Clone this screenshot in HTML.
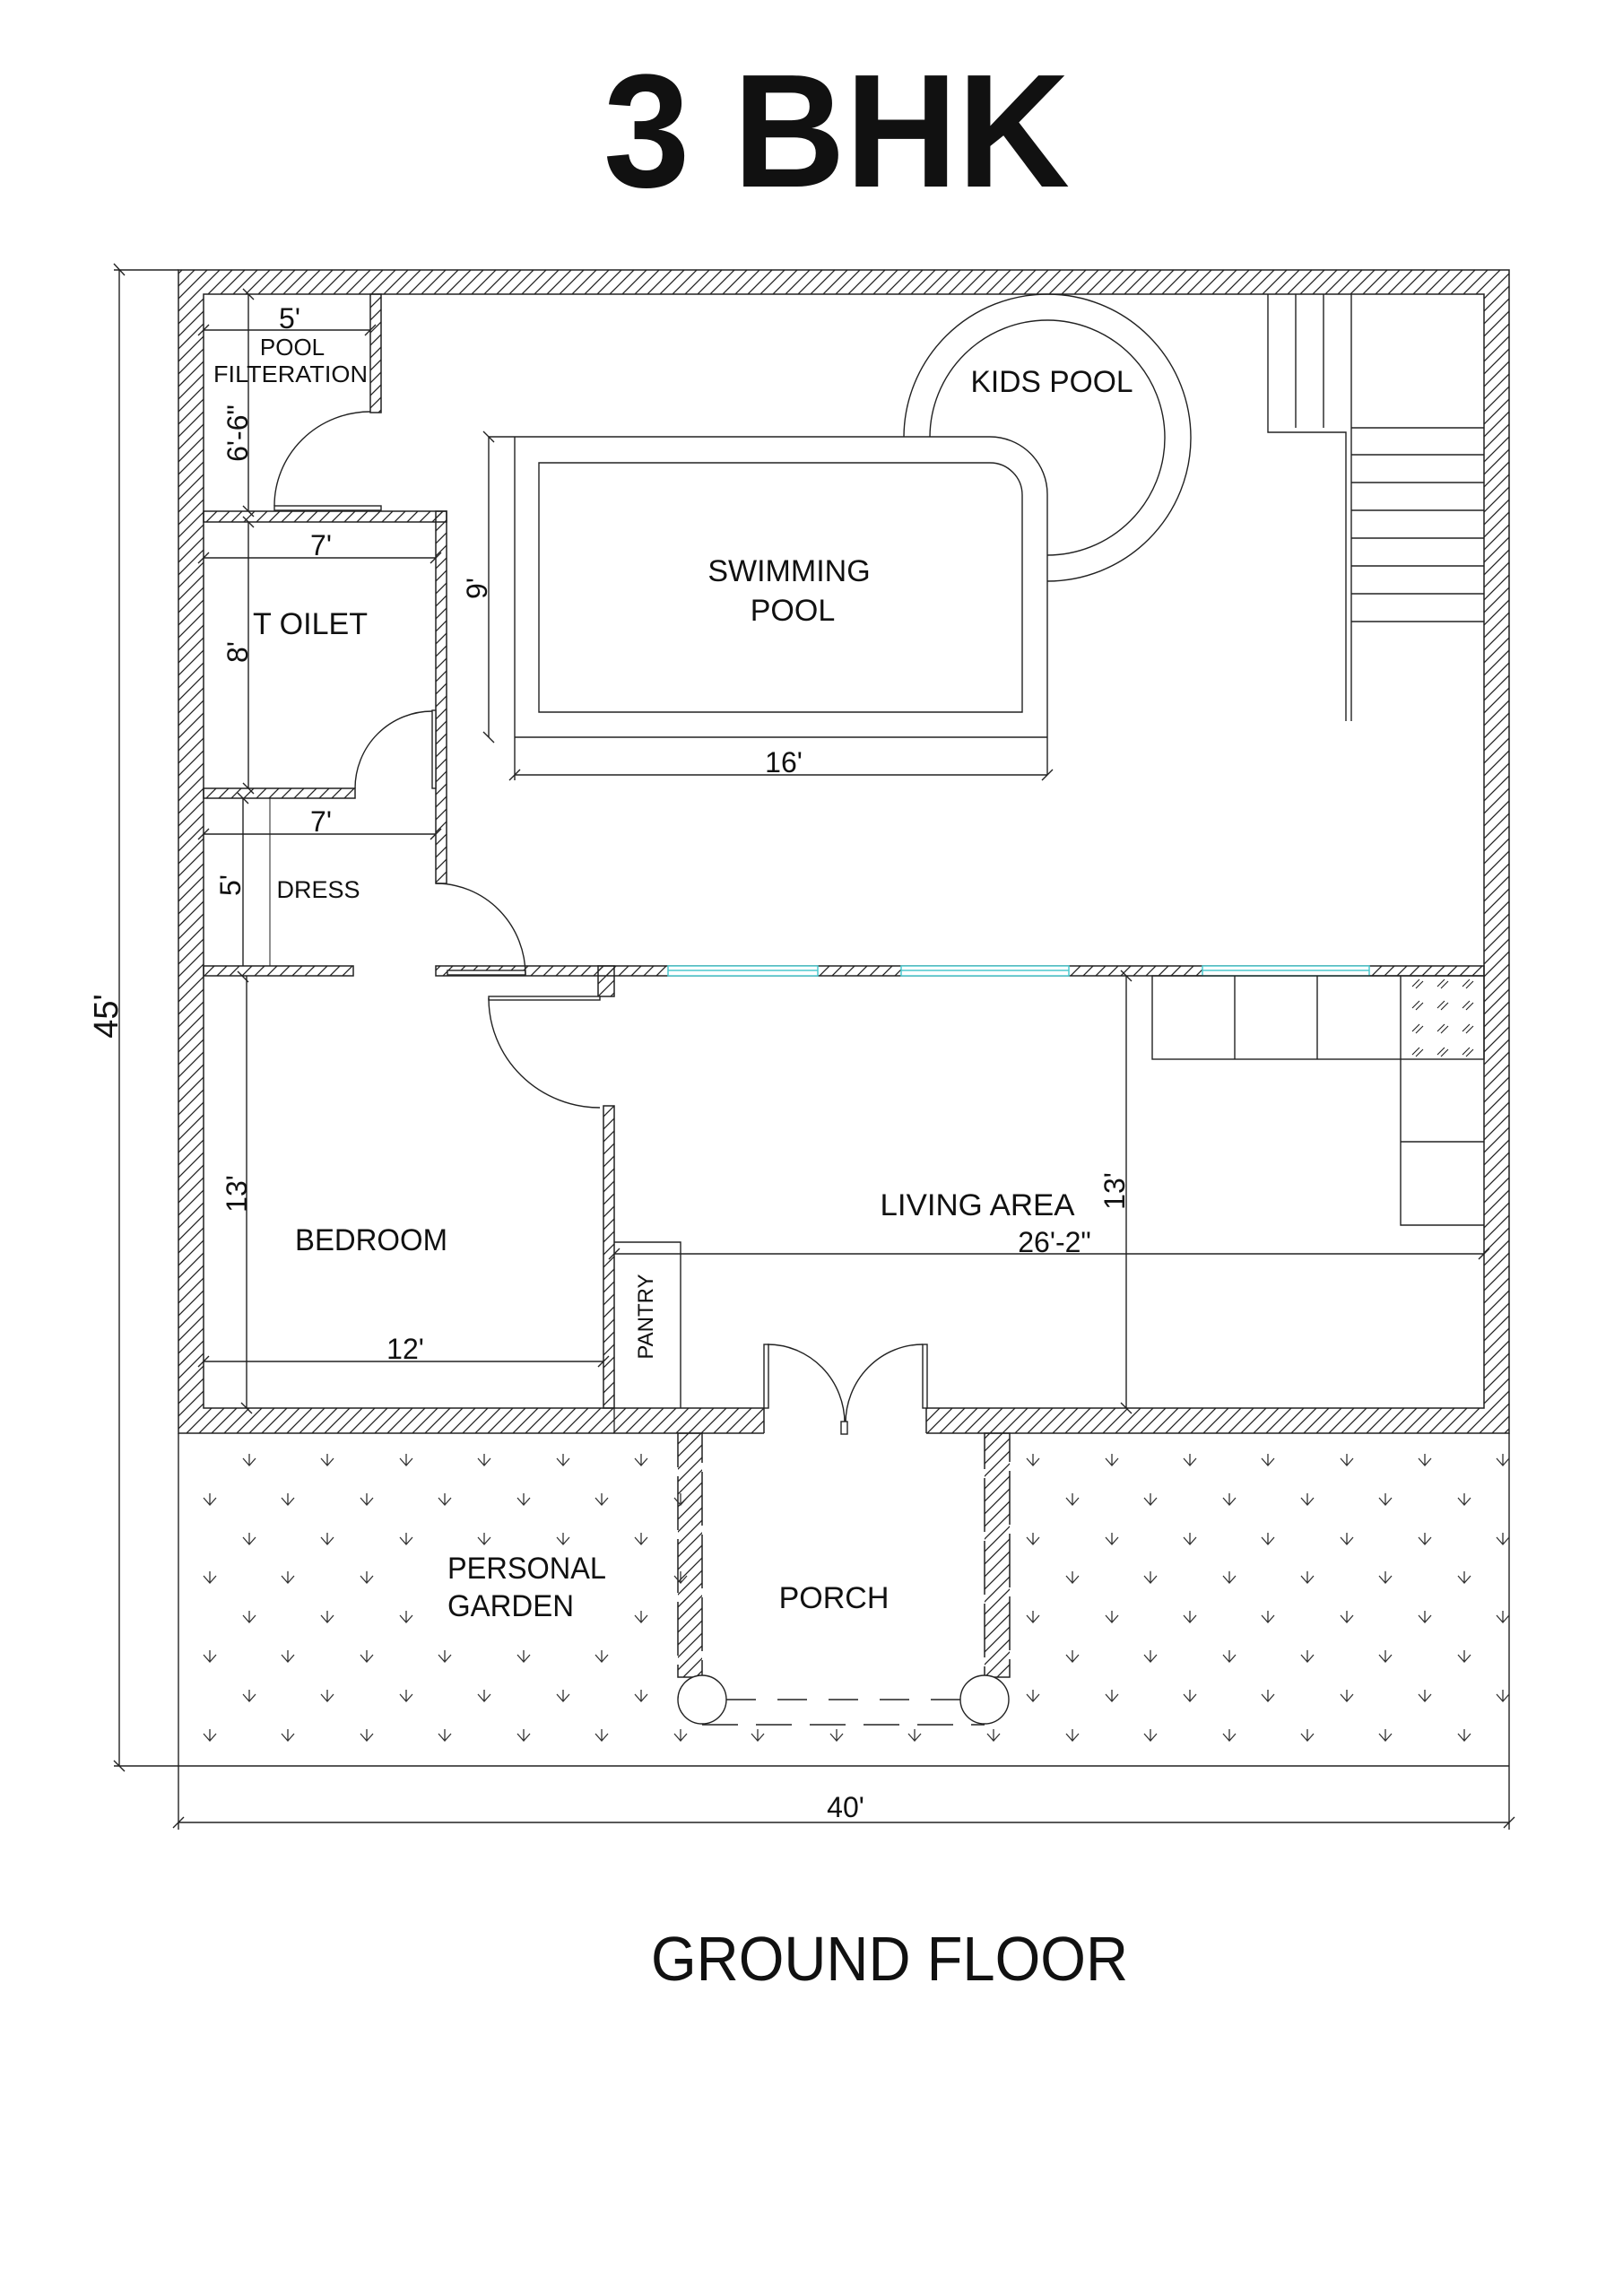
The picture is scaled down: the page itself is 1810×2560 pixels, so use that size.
<!DOCTYPE html>
<html><head><meta charset="utf-8"><style>
html,body{margin:0;padding:0;background:#fff;}
svg{display:block;}
text{font-family:"Liberation Sans",sans-serif;fill:#111;}
</style></head><body>
<svg width="1810" height="2560" viewBox="0 0 1810 2560" xmlns="http://www.w3.org/2000/svg">
<defs>
<pattern id="h" patternUnits="userSpaceOnUse" width="14" height="14">
<path d="M-2,16 L16,-2 M-9,9 L9,-9 M5,23 L23,5" stroke="#222" stroke-width="1.3"/>
</pattern>
<g id="ar"><path d="M-7,-3 L0,5 L7,-3 M0,-8 L0,5" fill="none" stroke="#333" stroke-width="1.3"/></g>
</defs>
<rect width="1810" height="2560" fill="#fff"/>

<!-- title -->
<text x="933" y="208" font-size="180" font-weight="bold" text-anchor="middle" textLength="520" lengthAdjust="spacingAndGlyphs">3 BHK</text>
<text x="992" y="2208" font-size="70" text-anchor="middle" textLength="532" lengthAdjust="spacingAndGlyphs">GROUND FLOOR</text>

<!-- outer walls: hatch fill without stroke -->
<g fill="url(#h)" stroke="none">
<rect x="199" y="301" width="1484" height="27"/>
<rect x="199" y="328" width="28" height="1270"/>
<rect x="1655" y="328" width="28" height="1270"/>
<rect x="227" y="1570" width="625" height="28"/>
<rect x="1033" y="1570" width="622" height="28"/>
</g>
<path d="M852,1598 H199 V301 H1683 V1598 H1033 M852,1570 H227 V328 H1655 V1570 H1033 M852,1570 V1598 M1033,1570 V1598" fill="none" stroke="#222" stroke-width="1.5"/>

<g stroke="#222" stroke-width="1.5" fill="url(#h)">
<!-- internal walls -->
<rect x="413" y="328" width="12" height="132"/>
<rect x="227" y="570" width="271" height="12"/>
<rect x="486" y="570" width="12" height="415"/>
<rect x="227" y="879" width="169" height="11"/>
<rect x="227" y="1077" width="167" height="11"/>
<rect x="486" y="1077" width="1169" height="11"/>
<rect x="667" y="1077" width="18" height="34"/>
<rect x="673" y="1233" width="12" height="337"/>
<!-- porch walls -->
<rect x="756" y="1598" width="27" height="272" stroke-dasharray="60 10"/>
<rect x="1098" y="1598" width="28" height="272" stroke-dasharray="60 10"/>
</g>
<line x1="685" y1="1570" x2="685" y2="1598" stroke="#222" stroke-width="1.3"/>

<!-- windows -->
<g fill="#fff" stroke="#4cc9cf" stroke-width="1.5">
<rect x="745" y="1077" width="167" height="11"/><line x1="745" y1="1082" x2="912" y2="1082"/>
<rect x="1005" y="1077" width="187" height="11"/><line x1="1005" y1="1082" x2="1192" y2="1082"/>
<rect x="1341" y="1077" width="186" height="11"/><line x1="1341" y1="1082" x2="1527" y2="1082"/>
</g>

<g fill="none" stroke="#222" stroke-width="1.4">
<!-- dimension lines -->
<line x1="127" y1="301" x2="199" y2="301"/>
<line x1="133" y1="301" x2="133" y2="1969"/>
<line x1="127" y1="1969" x2="1683" y2="1969"/>
<line x1="199" y1="1598" x2="199" y2="2040"/>
<line x1="1683" y1="1598" x2="1683" y2="2040"/>
<line x1="199" y1="2032" x2="1683" y2="2032"/>
<path d="M127,294 L139,307 M127,1963 L139,1975 M193,2038 L205,2026 M1677,2038 L1689,2026"/>

<line x1="227" y1="368" x2="413" y2="368"/>
<line x1="277" y1="328" x2="277" y2="570"/>
<line x1="227" y1="622" x2="486" y2="622"/>
<line x1="277" y1="582" x2="277" y2="879"/>
<line x1="227" y1="930" x2="486" y2="930"/>
<line x1="271" y1="890" x2="271" y2="1077"/>
<line x1="301" y1="890" x2="301" y2="1077" stroke-width="1"/>
<line x1="275" y1="1088" x2="275" y2="1570"/>
<line x1="227" y1="1518" x2="673" y2="1518"/>
<path d="M271,322 L283,334 M271,564 L283,576 M271,576 L283,588 M271,873 L283,885 M265,884 L277,896 M265,1083 L277,1095 M269,1564 L281,1576
 M221,374 L233,362 M407,374 L419,362 M221,628 L233,616 M480,628 L492,616 M221,936 L233,924 M480,936 L492,924 M221,1524 L233,1512 M667,1524 L679,1512"/>

<!-- pool -->
<line x1="545" y1="487" x2="545" y2="822"/>
<path d="M539,481 L551,493 M539,816 L551,828"/>
<path d="M545,487 L1104,487 A64,64 0 0 1 1168,551 L1168,864"/>
<line x1="574" y1="487" x2="574" y2="870"/>
<line x1="574" y1="822" x2="1168" y2="822"/>
<line x1="574" y1="864" x2="1168" y2="864"/>
<path d="M568,870 L580,858 M1162,870 L1174,858"/>
<path d="M601,516 L1104,516 A36,36 0 0 1 1140,552 L1140,794 L601,794 Z"/>
<!-- kids pool -->
<path d="M1008,487 A160,160 0 1 1 1168,648"/>
<path d="M1037,487 A131,131 0 1 1 1168,619"/>

<!-- stairs -->
<path d="M1414,328 L1414,482 L1501,482 L1501,804 M1507,328 L1507,804 M1445,328 L1445,477 M1476,328 L1476,477"/>
<path d="M1507,477 L1655,477 M1507,507 L1655,507 M1507,538 L1655,538 M1507,569 L1655,569 M1507,600 L1655,600 M1507,631 L1655,631 M1507,662 L1655,662 M1507,693 L1655,693"/>

<!-- doors -->
<rect x="306" y="564" width="119" height="5" fill="#fff"/>
<path d="M306,564 A107,105 0 0 1 413,459"/>
<rect x="482" y="792" width="4" height="87" fill="#fff"/>
<path d="M396,879 A86,86 0 0 1 482,793"/>
<rect x="499" y="1082" width="87" height="5" fill="#fff"/>
<path d="M486,985 A100,102 0 0 1 586,1087"/>
<rect x="545" y="1111" width="124" height="4" fill="#fff"/>
<path d="M545,1113 A124,122 0 0 0 669,1235"/>
<rect x="852" y="1499" width="5" height="71" fill="#fff"/>
<path d="M856,1499 A86,88 0 0 1 942,1587"/>
<rect x="1029" y="1499" width="5" height="71" fill="#fff"/>
<path d="M1029,1499 A86,88 0 0 0 943,1587"/>
<rect x="938" y="1585" width="7" height="14" fill="#fff"/>

<!-- pantry, living dims -->
<path d="M685,1385 L759,1385 L759,1570"/>
<line x1="685" y1="1398" x2="1655" y2="1398"/>
<line x1="1256" y1="1088" x2="1256" y2="1570"/>
<path d="M679,1404 L691,1392 M1649,1404 L1661,1392 M1250,1082 L1262,1094 M1250,1564 L1262,1576"/>

<!-- kitchen -->
<rect x="1285" y="1088" width="370" height="93"/>
<path d="M1377,1088 L1377,1181 M1469,1088 L1469,1181 M1562,1088 L1562,1366 L1655,1366 M1562,1273 L1655,1273"/>
<g stroke-width="1.1">
<path d="M1575,1100 l8,-8 M1579,1102 l8,-8 M1603,1100 l8,-8 M1607,1102 l8,-8 M1631,1100 l8,-8 M1635,1102 l8,-8
 M1575,1124 l8,-8 M1579,1126 l8,-8 M1603,1124 l8,-8 M1607,1126 l8,-8 M1631,1124 l8,-8 M1635,1126 l8,-8
 M1575,1150 l8,-8 M1579,1152 l8,-8 M1603,1150 l8,-8 M1607,1152 l8,-8 M1631,1150 l8,-8 M1635,1152 l8,-8
 M1575,1176 l8,-8 M1579,1178 l8,-8 M1603,1176 l8,-8 M1607,1178 l8,-8 M1631,1176 l8,-8 M1635,1178 l8,-8"/>
</g>

<!-- porch columns -->
<circle cx="783" cy="1895" r="27" fill="#fff"/>
<circle cx="1098" cy="1895" r="27" fill="#fff"/>
<line x1="810" y1="1895" x2="1071" y2="1895" stroke-dasharray="33 24"/>
<line x1="783" y1="1923" x2="1098" y2="1923" stroke-dasharray="40 20"/>
</g>

<!-- garden arrows -->
<g>
<use href="#ar" x="278" y="1629"/><use href="#ar" x="365" y="1629"/><use href="#ar" x="453" y="1629"/><use href="#ar" x="540" y="1629"/><use href="#ar" x="628" y="1629"/><use href="#ar" x="715" y="1629"/>
<use href="#ar" x="1152" y="1629"/><use href="#ar" x="1240" y="1629"/><use href="#ar" x="1327" y="1629"/><use href="#ar" x="1414" y="1629"/><use href="#ar" x="1502" y="1629"/><use href="#ar" x="1589" y="1629"/><use href="#ar" x="1676" y="1629"/>
<use href="#ar" x="234" y="1673"/><use href="#ar" x="321" y="1673"/><use href="#ar" x="409" y="1673"/><use href="#ar" x="496" y="1673"/><use href="#ar" x="584" y="1673"/><use href="#ar" x="671" y="1673"/><use href="#ar" x="759" y="1673"/>
<use href="#ar" x="1196" y="1673"/><use href="#ar" x="1283" y="1673"/><use href="#ar" x="1371" y="1673"/><use href="#ar" x="1458" y="1673"/><use href="#ar" x="1545" y="1673"/><use href="#ar" x="1633" y="1673"/>
<use href="#ar" x="278" y="1717"/><use href="#ar" x="365" y="1717"/><use href="#ar" x="453" y="1717"/><use href="#ar" x="540" y="1717"/><use href="#ar" x="628" y="1717"/><use href="#ar" x="715" y="1717"/>
<use href="#ar" x="1152" y="1717"/><use href="#ar" x="1240" y="1717"/><use href="#ar" x="1327" y="1717"/><use href="#ar" x="1414" y="1717"/><use href="#ar" x="1502" y="1717"/><use href="#ar" x="1589" y="1717"/><use href="#ar" x="1676" y="1717"/>
<use href="#ar" x="234" y="1760"/><use href="#ar" x="321" y="1760"/><use href="#ar" x="409" y="1760"/><use href="#ar" x="759" y="1760"/>
<use href="#ar" x="1196" y="1760"/><use href="#ar" x="1283" y="1760"/><use href="#ar" x="1371" y="1760"/><use href="#ar" x="1458" y="1760"/><use href="#ar" x="1545" y="1760"/><use href="#ar" x="1633" y="1760"/>
<use href="#ar" x="278" y="1804"/><use href="#ar" x="365" y="1804"/><use href="#ar" x="453" y="1804"/><use href="#ar" x="715" y="1804"/>
<use href="#ar" x="1152" y="1804"/><use href="#ar" x="1240" y="1804"/><use href="#ar" x="1327" y="1804"/><use href="#ar" x="1414" y="1804"/><use href="#ar" x="1502" y="1804"/><use href="#ar" x="1589" y="1804"/><use href="#ar" x="1676" y="1804"/>
<use href="#ar" x="234" y="1848"/><use href="#ar" x="321" y="1848"/><use href="#ar" x="409" y="1848"/><use href="#ar" x="496" y="1848"/><use href="#ar" x="584" y="1848"/><use href="#ar" x="671" y="1848"/>
<use href="#ar" x="1196" y="1848"/><use href="#ar" x="1283" y="1848"/><use href="#ar" x="1371" y="1848"/><use href="#ar" x="1458" y="1848"/><use href="#ar" x="1545" y="1848"/><use href="#ar" x="1633" y="1848"/>
<use href="#ar" x="278" y="1892"/><use href="#ar" x="365" y="1892"/><use href="#ar" x="453" y="1892"/><use href="#ar" x="540" y="1892"/><use href="#ar" x="628" y="1892"/><use href="#ar" x="715" y="1892"/>
<use href="#ar" x="1152" y="1892"/><use href="#ar" x="1240" y="1892"/><use href="#ar" x="1327" y="1892"/><use href="#ar" x="1414" y="1892"/><use href="#ar" x="1502" y="1892"/><use href="#ar" x="1589" y="1892"/><use href="#ar" x="1676" y="1892"/>
<use href="#ar" x="234" y="1936"/><use href="#ar" x="321" y="1936"/><use href="#ar" x="409" y="1936"/><use href="#ar" x="496" y="1936"/><use href="#ar" x="584" y="1936"/><use href="#ar" x="671" y="1936"/><use href="#ar" x="759" y="1936"/><use href="#ar" x="845" y="1936"/><use href="#ar" x="933" y="1936"/><use href="#ar" x="1020" y="1936"/><use href="#ar" x="1108" y="1936"/>
<use href="#ar" x="1196" y="1936"/><use href="#ar" x="1283" y="1936"/><use href="#ar" x="1371" y="1936"/><use href="#ar" x="1458" y="1936"/><use href="#ar" x="1545" y="1936"/><use href="#ar" x="1633" y="1936"/>
</g>

<!-- labels -->
<g font-size="32" text-anchor="middle">
<text x="323" y="366">5'</text>
<text x="358" y="619">7'</text>
<text x="358" y="927">7'</text>
<text x="874" y="861">16'</text>
<text x="452" y="1515">12'</text>
<text x="1176" y="1396">26'-2"</text>
<text x="943" y="2026">40'</text>
<text transform="translate(276,483) rotate(-90)">6'-6"</text>
<text transform="translate(276,727) rotate(-90)">8'</text>
<text transform="translate(268,987) rotate(-90)">5'</text>
<text transform="translate(275,1331) rotate(-90)">13'</text>
<text transform="translate(543,656) rotate(-90)">9'</text>
<text transform="translate(1254,1328) rotate(-90)">13'</text>
<text transform="translate(131,1133) rotate(-90)" font-size="38">45'</text>
</g>
<g font-size="34" text-anchor="middle">
<text x="326" y="396" font-size="26">POOL</text>
<text x="324" y="426" font-size="26" textLength="172" lengthAdjust="spacingAndGlyphs">FILTERATION</text>
<text x="346" y="707" textLength="128" lengthAdjust="spacingAndGlyphs">T OILET</text>
<text x="355" y="1001" font-size="27">DRESS</text>
<text x="880" y="648">SWIMMING</text>
<text x="884" y="692">POOL</text>
<text x="1173" y="437" textLength="181" lengthAdjust="spacingAndGlyphs">KIDS POOL</text>
<text x="414" y="1394" textLength="170" lengthAdjust="spacingAndGlyphs">BEDROOM</text>
<text x="1090" y="1355" textLength="217" lengthAdjust="spacingAndGlyphs">LIVING AREA</text>
<text transform="translate(728,1468) rotate(-90)" font-size="24">PANTRY</text>
<text x="930" y="1793">PORCH</text>
<text x="499" y="1760" text-anchor="start" textLength="177" lengthAdjust="spacingAndGlyphs">PERSONAL</text>
<text x="499" y="1802" text-anchor="start" textLength="141" lengthAdjust="spacingAndGlyphs">GARDEN</text>
</g>
</svg>
</body></html>
